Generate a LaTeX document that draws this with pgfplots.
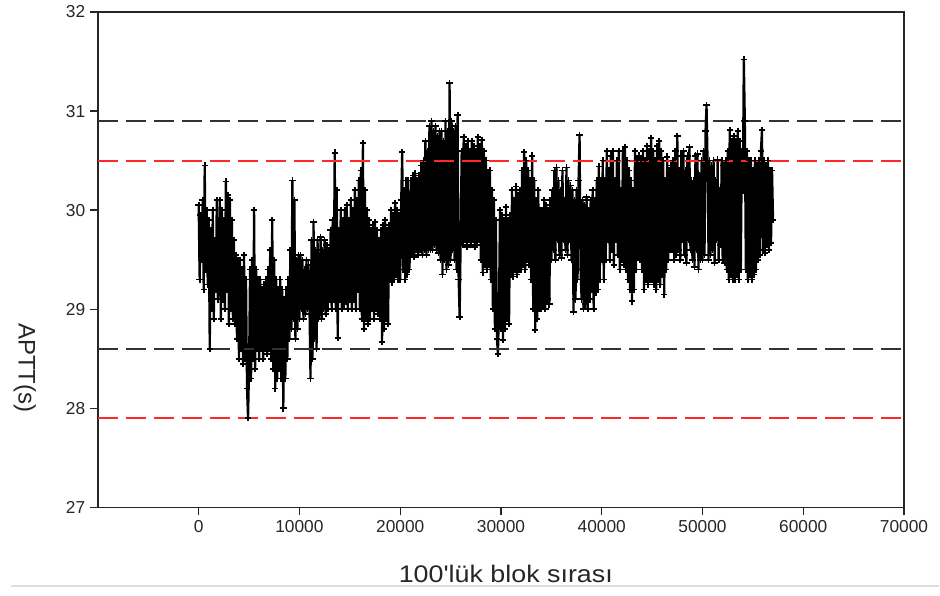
\documentclass[border=0pt]{standalone}
\usepackage{pgfplots}
\usepackage{pgfplotstable}
\pgfplotsset{compat=1.18}
\usepackage{fontspec}
\setmainfont{Liberation Sans}
\newfontfamily\labelfont[FakeStretch=1.12]{Liberation Sans}

\definecolor{limred}{RGB}{255,40,40}
\definecolor{limgray}{RGB}{50,50,50}

% APTT means per block of 100 (one value every 100 blocks)
\pgfplotstableread[header=false,row sep=\\]{
30.05\\29.3\\29.95\\29.5\\30.1\\29.2\\30.45\\29.4\\30.0\\29.25\\
29.9\\28.6\\29.8\\29.0\\30.0\\28.9\\29.7\\29.2\\30.1\\29.1\\
29.2\\30.1\\28.9\\30.0\\29.1\\29.9\\29.0\\30.29\\29.2\\30.15\\
28.85\\30.1\\29.0\\29.9\\28.9\\29.7\\28.85\\29.55\\28.7\\29.5\\
28.5\\29.5\\28.6\\29.4\\28.45\\29.55\\28.5\\29.3\\28.2\\27.9\\
28.4\\29.4\\28.3\\29.5\\28.5\\30.0\\28.4\\29.4\\28.6\\29.3\\
28.5\\29.3\\28.6\\29.2\\28.5\\29.25\\28.6\\29.3\\28.55\\29.4\\
28.6\\29.6\\28.5\\29.9\\28.4\\29.5\\28.2\\29.3\\28.3\\29.2\\
28.4\\29.3\\28.3\\29.2\\28.0\\29.1\\28.3\\29.2\\28.5\\29.3\\
28.7\\29.6\\28.8\\30.3\\28.9\\30.1\\28.7\\29.5\\28.8\\29.55\\
28.9\\29.55\\29.0\\29.5\\28.9\\29.4\\28.95\\29.5\\29.0\\29.45\\
29.0\\28.3\\29.7\\28.5\\29.88\\28.7\\29.6\\28.6\\29.7\\28.9\\
29.0\\29.73\\28.9\\29.6\\29.0\\29.7\\28.95\\29.65\\29.0\\29.6\\
29.1\\29.8\\29.0\\29.9\\29.1\\30.58\\29.0\\30.2\\28.71\\29.8\\
29.1\\30.0\\29.0\\29.9\\29.05\\30.0\\29.1\\30.05\\29.0\\29.9\\
29.1\\30.1\\29.0\\30.0\\29.1\\30.2\\29.0\\30.1\\29.2\\30.3\\
29.0\\30.4\\28.9\\30.68\\28.8\\30.2\\28.9\\30.0\\28.85\\29.9\\
28.9\\29.8\\29.0\\29.85\\28.9\\29.88\\29.0\\29.8\\28.95\\29.7\\
28.9\\29.8\\28.67\\29.85\\28.8\\29.9\\28.9\\29.8\\28.85\\29.85\\
29.3\\30.0\\29.27\\29.95\\29.3\\30.07\\29.35\\30.0\\29.3\\29.95\\
29.3\\30.1\\30.59\\29.4\\30.2\\29.3\\30.3\\29.35\\30.3\\29.4\\
29.6\\30.3\\29.55\\30.35\\29.53\\30.37\\29.6\\30.3\\29.55\\30.35\\
29.6\\30.45\\29.55\\30.5\\29.6\\30.7\\29.55\\30.6\\29.6\\30.85\\
29.6\\30.9\\29.6\\30.8\\29.65\\30.85\\29.6\\30.75\\29.57\\30.8\\
29.5\\30.8\\29.35\\30.7\\29.5\\30.9\\29.4\\30.8\\29.45\\31.28\\
29.5\\30.9\\29.6\\30.8\\29.5\\30.85\\29.4\\30.96\\29.3\\28.92\\
29.7\\30.6\\29.65\\30.74\\29.7\\30.65\\29.63\\30.7\\29.7\\30.6\\
29.65\\30.7\\29.7\\30.65\\29.63\\30.6\\29.65\\30.74\\29.7\\30.65\\
29.5\\30.71\\29.37\\30.6\\29.45\\30.5\\29.4\\30.38\\29.45\\30.4\\
29.3\\30.2\\29.0\\30.1\\28.8\\29.9\\28.7\\28.55\\29.0\\30.0\\
28.8\\29.95\\28.69\\29.9\\28.8\\30.03\\28.9\\29.9\\28.85\\29.95\\
29.35\\30.2\\29.33\\30.1\\29.4\\30.24\\29.35\\30.15\\29.4\\30.2\\
29.4\\30.4\\29.45\\30.59\\29.4\\30.5\\29.5\\30.4\\29.45\\30.3\\
29.3\\30.55\\29.0\\30.3\\28.79\\30.1\\28.9\\30.2\\29.0\\30.0\\
29.0\\30.0\\29.05\\30.1\\29.0\\30.05\\29.1\\30.0\\29.05\\30.1\\
29.5\\30.2\\29.6\\30.4\\29.5\\30.43\\29.7\\30.3\\29.55\\30.2\\
29.52\\30.4\\29.7\\30.1\\29.6\\30.43\\29.55\\30.3\\29.7\\30.25\\
29.5\\30.2\\28.97\\30.1\\29.1\\30.2\\29.3\\30.3\\30.76\\29.4\\
29.1\\30.1\\29.0\\30.05\\29.05\\30.13\\29.0\\30.0\\29.1\\30.1\\
29.2\\30.2\\29.0\\30.1\\29.17\\30.3\\29.2\\30.44\\29.3\\30.3\\
29.5\\30.5\\29.3\\30.3\\29.5\\30.6\\29.7\\30.4\\29.5\\30.55\\
29.6\\30.6\\29.45\\30.3\\29.7\\30.5\\29.55\\30.6\\29.4\\30.2\\
29.5\\30.6\\29.45\\30.64\\29.4\\30.5\\29.3\\30.4\\29.2\\30.3\\
29.08\\30.2\\29.2\\30.6\\29.4\\30.5\\29.53\\30.55\\29.5\\30.5\\
29.4\\30.6\\29.2\\30.5\\29.3\\30.65\\29.25\\30.6\\29.3\\30.73\\
29.3\\30.6\\29.25\\30.5\\29.2\\30.65\\29.3\\30.7\\29.25\\30.6\\
29.35\\30.5\\29.15\\30.3\\29.4\\30.54\\29.5\\30.4\\29.6\\30.45\\
29.6\\30.5\\29.5\\30.6\\29.55\\30.75\\29.6\\30.4\\29.5\\30.55\\
29.7\\30.6\\29.55\\30.4\\29.47\\30.55\\29.7\\30.64\\29.6\\30.3\\
29.5\\30.3\\29.43\\30.55\\29.6\\30.57\\29.4\\30.35\\29.5\\30.5\\
29.5\\30.6\\29.55\\30.8\\31.06\\30.5\\29.5\\30.5\\29.55\\30.45\\
29.6\\30.5\\29.47\\30.3\\29.7\\30.51\\29.5\\30.2\\29.65\\30.5\\
29.5\\30.45\\29.47\\30.5\\29.4\\30.6\\29.3\\30.81\\29.35\\30.7\\
29.3\\30.75\\29.3\\30.7\\29.35\\30.8\\29.3\\30.7\\29.4\\30.6\\
30.2\\31.52\\30.9\\29.4\\30.6\\29.3\\30.5\\29.35\\30.5\\29.3\\
30.4\\29.35\\30.5\\29.4\\30.45\\29.5\\30.5\\29.55\\30.6\\30.81\\
29.6\\30.5\\29.57\\30.45\\29.65\\30.5\\29.6\\30.4\\29.67\\30.4\\
29.9\\
}\apttdata

\begin{document}
\begin{tikzpicture}
\begin{axis}[
  scale only axis,
  width=605.25pt, height=372pt,
  xmin=-10000, xmax=70000,
  ymin=27, ymax=32,
  xtick={0,10000,...,70000},
  ytick={27,28,...,32},
  scaled x ticks=false,
  tick pos=left,
  tick align=outside,
  major tick length=6pt,
  axis line style={line width=1.1pt, black!85},
  every tick/.style={line width=1pt, black!85},
  /pgf/number format/assume math mode=true,
  xticklabel style={font=\fontsize{13}{13}\selectfont, text=black!85,
    /pgf/number format/.cd, fixed, 1000 sep={}},
  yticklabel style={font=\fontsize{13}{13}\selectfont, text=black!85},
  xlabel={100'lük blok sırası},
  ylabel={APTT(s)},
  xlabel style={font=\labelfont\fontsize{18}{18}\selectfont, text=black!85,
    at={(axis description cs:0.506,-0.135)}, anchor=center},
  ylabel style={font=\fontsize{18}{18}\selectfont, text=black!85,
    at={(axis description cs:-0.0905,0.282)}, anchor=center, rotate=180},
  clip=true,
]
% block means
\addplot[black, line width=1.7pt, mark=+, mark size=2.4pt,
  mark options={line width=1.3pt}]
  table[x expr=\coordindex*100, y index=0] {\apttdata};
% control limits
\addplot[limgray, line width=1.6pt, dash pattern=on 15pt off 6pt]
  coordinates {(-10000,30.9) (70000,30.9)};
\addplot[limgray, line width=1.6pt, dash pattern=on 15pt off 6pt]
  coordinates {(-10000,28.6) (70000,28.6)};
\addplot[limred, line width=1.6pt, dash pattern=on 15pt off 6pt]
  coordinates {(-10000,30.5) (70000,30.5)};
\addplot[limred, line width=1.6pt, dash pattern=on 15pt off 6pt]
  coordinates {(-10000,27.9) (70000,27.9)};
\end{axis}
\draw[gray!25, line width=1.5pt]
  ([xshift=-65.25pt, yshift=-59.25pt]current axis.south west) --
  ([xshift=26.25pt, yshift=-59.25pt]current axis.south east);
\path[use as bounding box]
  ([xshift=-73.5pt, yshift=-66pt]current axis.south west) rectangle
  ([xshift=26.25pt, yshift=9pt]current axis.north east);
\end{tikzpicture}
\end{document}
